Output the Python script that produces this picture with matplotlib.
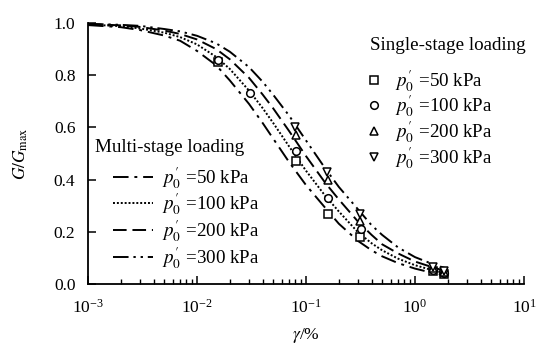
import numpy as np
import matplotlib
matplotlib.use("Agg")
import matplotlib.pyplot as plt
from matplotlib.lines import Line2D
from matplotlib.ticker import LogLocator, NullFormatter, FixedLocator

plt.rcParams['font.family'] = ['Liberation Serif', 'DejaVu Serif']
plt.rcParams['mathtext.fontset'] = 'stix'

# ------------------------
# Data
# ------------------------

# multi-stage loading curves (gamma in %)
gamma = [0.001, 0.002, 0.003, 0.005, 0.007, 0.01, 0.015, 0.02, 0.03, 0.04, 0.05,
         0.07, 0.1, 0.15, 0.2, 0.3, 0.4, 0.5, 0.7, 1.0, 1.5, 2.0]
multi_50 = [0.992, 0.984, 0.973, 0.952, 0.932, 0.893, 0.838, 0.780, 0.690, 0.617, 0.557,
            0.467, 0.379, 0.292, 0.231, 0.165, 0.129, 0.106, 0.080, 0.059, 0.041, 0.033]
multi_100 = [0.994, 0.988, 0.979, 0.963, 0.946, 0.918, 0.870, 0.824, 0.741, 0.674, 0.617,
             0.527, 0.434, 0.338, 0.278, 0.198, 0.156, 0.129, 0.097, 0.072, 0.051, 0.040]
multi_200 = [0.996, 0.991, 0.985, 0.971, 0.958, 0.937, 0.900, 0.861, 0.790, 0.726, 0.673,
             0.586, 0.490, 0.388, 0.324, 0.239, 0.188, 0.152, 0.117, 0.086, 0.062, 0.048]
multi_300 = [0.997, 0.993, 0.989, 0.977, 0.968, 0.951, 0.922, 0.890, 0.831, 0.775, 0.725,
             0.645, 0.550, 0.443, 0.372, 0.286, 0.225, 0.188, 0.140, 0.103, 0.074, 0.058]

# single-stage loading tests
single_g_50 = [0.0155, 0.081, 0.158, 0.316, 1.45, 1.85]
single_50 = [0.85, 0.47, 0.27, 0.18, 0.050, 0.040]
single_g_100 = [0.0155, 0.0306, 0.081, 0.158, 0.32, 1.45, 1.85]
single_100 = [0.86, 0.73, 0.51, 0.33, 0.21, 0.055, 0.042]
single_g_200 = [0.081, 0.158, 0.316, 1.45, 1.85]
single_200 = [0.57, 0.40, 0.24, 0.060, 0.045]
single_g_300 = [0.080, 0.157, 0.314, 1.45, 1.85]
single_300 = [0.60, 0.43, 0.27, 0.065, 0.048]

pressures = ["50", "100", "200", "300"]

# ------------------------
# Plot
# ------------------------

fig = plt.figure(figsize=(5.41, 3.52), dpi=100)
ax = fig.add_axes([88 / 541, 1 - 284 / 352, (524 - 88) / 541, (284 - 23) / 352])

line_styles = [(0, (8, 3, 1.5, 3)),
               (0, (1, 1)),
               (0, (7, 3)),
               (0, (8, 2.5, 1.2, 2.5, 1.2, 2.5))]
multi = [multi_50, multi_100, multi_200, multi_300]
for vals, ls in zip(multi, line_styles):
    ax.plot(gamma, vals, color='black', lw=1.4, linestyle=ls)

markers = ['s', 'o', '^', 'v']
single = [(single_g_50, single_50), (single_g_100, single_100),
          (single_g_200, single_200), (single_g_300, single_300)]
for (g, v), m in zip(single, markers):
    ax.plot(g, v, linestyle='none', marker=m, ms=5.5, mfc='white', mec='black', mew=1.1)

ax.set_xscale('log')
ax.set_xlim(1e-3, 10)
ax.set_ylim(0, 1.0)
ax.yaxis.set_major_locator(FixedLocator([0, 0.2, 0.4, 0.6, 0.8, 1.0]))
ax.set_yticklabels(["0.0", "0.2", "0.4", "0.6", "0.8", "1.0"])
ax.xaxis.set_major_locator(LogLocator(base=10))
ax.xaxis.set_minor_locator(LogLocator(base=10, subs=np.arange(2, 10)))
ax.xaxis.set_minor_formatter(NullFormatter())

ax.spines['top'].set_visible(False)
ax.spines['right'].set_visible(False)
for s in ['left', 'bottom']:
    ax.spines[s].set_linewidth(1.3)
ax.tick_params(which='major', direction='in', length=6, width=1.1, labelsize=12.5, pad=9)
ax.tick_params(axis='x', which='major', pad=11)
ax.tick_params(which='minor', direction='in', length=3.5, width=1.0)

ax.set_xlabel(r'$\gamma$/%', fontsize=12.5, labelpad=6)
ax.set_ylabel(r'$G/G_{\rm max}$', fontsize=12.5, labelpad=17)

# single-stage legend
fig.text(370 / 541, 1 - 45 / 352, "Single-stage loading", fontsize=13.7, va='center', ha='left')
h1 = [Line2D([], [], linestyle='none', marker=m, ms=5.5, mfc='white', mec='black', mew=1.1)
      for m in markers]
l1 = [r"$p_0^{\prime}$ =" + p + " kPa" for p in pressures]
leg1 = fig.legend(h1, l1, loc='upper left', bbox_to_anchor=(366 / 541, 1 - 68 / 352),
                  frameon=False, fontsize=13.7, handlelength=0.8, handletextpad=0.7,
                  labelspacing=0.0, borderpad=0, borderaxespad=0)

# multi-stage legend
fig.text(95 / 541, 1 - 148 / 352, "Multi-stage loading", fontsize=13.7, va='center', ha='left')
h2 = [Line2D([], [], color='black', lw=1.4, linestyle=ls) for ls in line_styles]
l2 = [r"$p_0^{\prime}$ =" + p + " kPa" for p in pressures]
leg2 = fig.legend(h2, l2, loc='upper left', bbox_to_anchor=(113 / 541, 1 - 165 / 352),
                  frameon=False, fontsize=13.7, handlelength=2.1, handletextpad=0.45,
                  labelspacing=0.05, borderpad=0, borderaxespad=0)

fig.savefig("out.png", dpi=100)
